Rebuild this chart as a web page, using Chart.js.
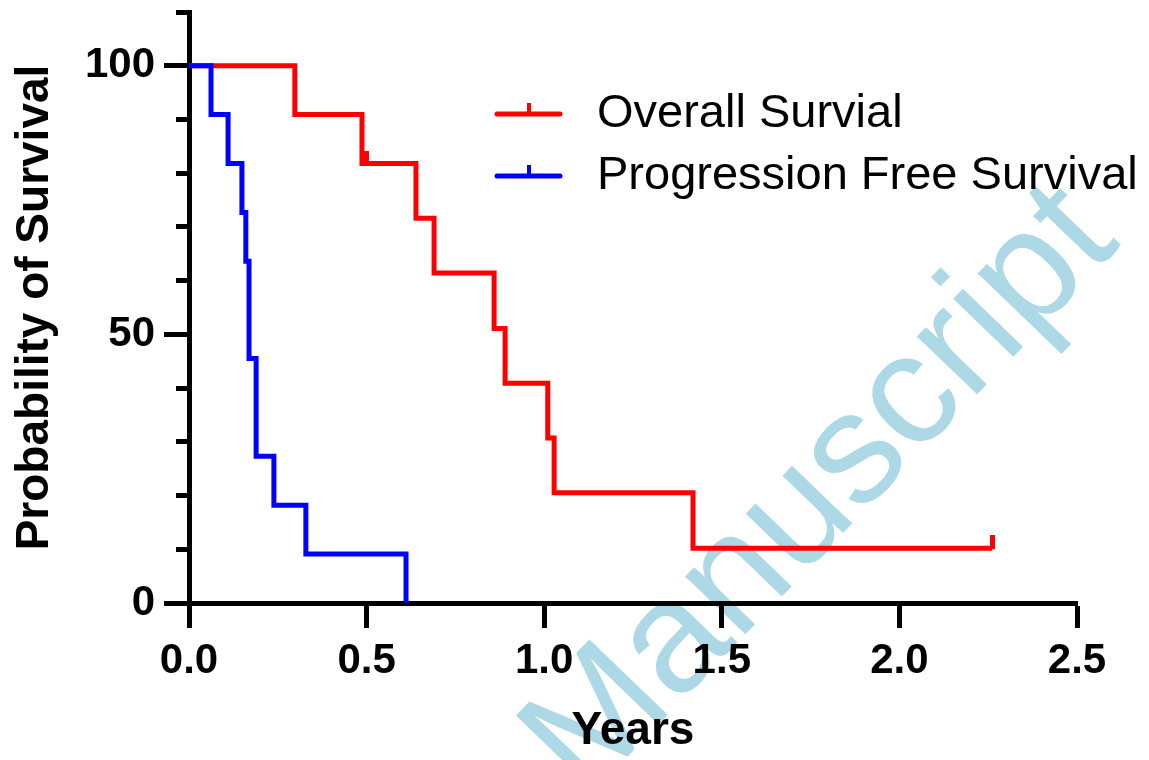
<!DOCTYPE html>
<html><head><meta charset="utf-8">
<script src="https://cdn.jsdelivr.net/npm/chart.js@4"></script>
<style>
html,body{margin:0;padding:0;background:#fff;}
#wrap{position:relative;width:1149px;height:760px;overflow:hidden;background:#fff;}
#wm{position:absolute;left:814px;top:484px;transform:translate(-50%,-50%) rotate(-46deg);font:158px "Liberation Sans",Arial,sans-serif;line-height:1;color:#ADD8E6;white-space:nowrap;z-index:0;}
canvas{position:absolute;left:0;top:0;z-index:1;}
</style></head><body>
<div id="wrap"><div id="wm">Manuscript</div><canvas id="c" width="1149" height="760"></canvas></div>
<script>
// ---- data ----
const osTimes = [0, 0.298, 0.487, 0.639, 0.690, 0.859, 0.890, 1.010, 1.028, 1.419, 2.261];
const osValues = [100, 90.9, 81.8, 71.6, 61.4, 51.1, 40.9, 30.7, 20.5, 10.2, 10.2];
const osCensorTimes = [0.50, 2.261];
const osCensorValues = [81.8, 10.2];
const pfsTimes = [0, 0.062, 0.110, 0.149, 0.160, 0.169, 0.189, 0.239, 0.329, 0.611];
const pfsValues = [100, 90.9, 81.8, 72.7, 63.6, 45.5, 27.3, 18.2, 9.1, 0];
const seriesNames = ['Overall Survial', 'Progression Free Survival'];
const seriesColors = ['#FF0000', '#0000FF'];
const yMajorTicks = [0, 50, 100];
const xTitle = 'Years';
const yTitle = 'Probability of Survival';

function pts(xs, ys) { return xs.map((x, i) => ({x: x, y: ys[i]})); }
function censorImg(color) {
  const c = document.createElement('canvas');
  c.width = 5; c.height = 26;
  const g = c.getContext('2d');
  g.fillStyle = color; g.fillRect(0, 0, 5, 14);
  return c;
}

const legendPlugin = {
  id: 'kmLegend',
  afterDraw(chart) {
    const ctx = chart.ctx;
    const rows = [114, 176];
    ctx.save();
    seriesNames.forEach((name, i) => {
      const y = rows[i];
      ctx.strokeStyle = seriesColors[i];
      ctx.lineWidth = 5;
      ctx.lineCap = 'round';
      ctx.beginPath(); ctx.moveTo(497, y); ctx.lineTo(560, y); ctx.stroke();
      ctx.lineCap = 'butt';
      ctx.lineWidth = 4;
      ctx.beginPath(); ctx.moveTo(529, y); ctx.lineTo(529, y - 11); ctx.stroke();
      ctx.fillStyle = '#000';
      ctx.font = '47px "Liberation Sans", Arial, sans-serif';
      ctx.textBaseline = 'middle';
      ctx.textAlign = 'left';
      ctx.fillText(name, 597, y);
    });
    ctx.restore();
  }
};

const tickFont = {family: '"Liberation Sans", Arial, sans-serif', size: 42, weight: 'bold'};
const titleFont = {family: '"Liberation Sans", Arial, sans-serif', size: 46, weight: 'bold'};

function noPad(s) { s.paddingTop = 0; s.paddingBottom = 0; s.paddingLeft = 0; s.paddingRight = 0; }

new Chart(document.getElementById('c'), {
  type: 'scatter',
  data: {
    datasets: [
      {label: seriesNames[1], data: pts(pfsTimes, pfsValues), showLine: true, stepped: 'before',
       borderColor: seriesColors[1], borderWidth: 5, pointRadius: 0, borderCapStyle: 'round', order: 0},
      {label: seriesNames[0], data: pts(osTimes, osValues), showLine: true, stepped: 'before',
       borderColor: seriesColors[0], borderWidth: 5, pointRadius: 0, borderCapStyle: 'butt', order: 1},
      {label: seriesNames[0] + ' censored', data: pts(osCensorTimes, osCensorValues), showLine: false,
       pointStyle: censorImg(seriesColors[0]), pointRadius: 6, order: 1}
    ]
  },
  options: {
    responsive: false,
    animation: false,
    layout: {padding: {top: 12, right: 72, left: 0, bottom: 0}},
    plugins: {legend: {display: false}, tooltip: {enabled: false}},
    scales: {
      x: {
        type: 'linear', min: 0, max: 2.5,
        border: {display: true, color: '#000', width: 5},
        grid: {display: true, drawOnChartArea: false, drawTicks: true, tickLength: 25, tickWidth: 5, tickColor: '#000'},
        ticks: {stepSize: 0.5, color: '#000', font: tickFont, padding: 8, maxRotation: 0,
                callback: v => Number(v).toFixed(1)},
        title: {display: true, text: xTitle, color: '#000', font: titleFont, padding: {top: 0, bottom: 1}},
        afterFit: s => { s.height = 157; noPad(s); }
      },
      y: {
        type: 'linear', min: 0, max: 110,
        border: {display: true, color: '#000', width: 5},
        grid: {display: true, drawOnChartArea: false, drawTicks: true, tickLength: 25, tickWidth: 5, tickColor: '#000',
               tickBorderDash: c => (c.tick && yMajorTicks.includes(c.tick.value)) ? [] : [0, 12, 14, 100]},
        ticks: {stepSize: 10, autoSkip: false, color: '#000', font: tickFont, padding: 9,
                callback: v => yMajorTicks.includes(v) ? String(v) : ''},
        title: {display: true, text: yTitle, color: '#000', font: titleFont, padding: {top: 8, bottom: 0}},
        afterFit: s => { s.width = 189; noPad(s); }
      }
    }
  },
  plugins: [legendPlugin]
});
</script>
</body></html>
